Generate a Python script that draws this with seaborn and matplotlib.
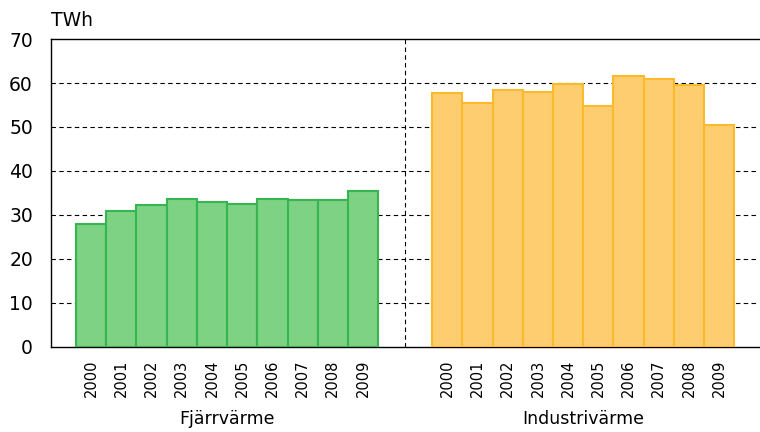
import numpy as np
import pandas as pd
import matplotlib
matplotlib.use('Agg')
import matplotlib.pyplot as plt
import matplotlib.transforms as mtransforms
import seaborn as sns

years = ['2000', '2001', '2002', '2003', '2004', '2005', '2006', '2007', '2008', '2009']
groups = ['Fjärrvärme', 'Industrivärme']
fjarrvarme = [28.0, 30.8, 32.3, 33.7, 33.0, 32.6, 33.7, 33.3, 33.3, 35.5]
industrivarme = [57.7, 55.5, 58.4, 58.0, 59.8, 54.8, 61.7, 60.9, 59.6, 50.4]
y_ticks = [0, 10, 20, 30, 40, 50, 60, 70]
unit = 'TWh'

face = {'Fjärrvärme': '#7dd383', 'Industrivärme': '#fdcd70'}
edge = {'Fjärrvärme': '#36b653', 'Industrivärme': '#fcb92c'}

# second group shifted right, leaving a gap for the divider
offset = len(years) + 1.79
rows = []
for g, vals, off in [(groups[0], fjarrvarme, 0.0), (groups[1], industrivarme, offset)]:
    for i, (yr, v) in enumerate(zip(years, vals)):
        rows.append({'group': g, 'year': yr, 'pos': i + off, 'value': v})
df = pd.DataFrame(rows)

sns.set_style('white')
plt.rcParams['font.family'] = ['DejaVu Sans']
plt.rcParams['text.color'] = 'black'

fig = plt.figure(figsize=(7.6, 4.32), dpi=100)
ax = fig.add_axes([51 / 760, 1 - 347 / 432, 708 / 760, 308 / 432])

sns.barplot(data=df, x='pos', y='value', hue='group', palette=face,
            native_scale=True, width=1.0, dodge=False, legend=False,
            saturation=1, linewidth=1.5, ax=ax, zorder=3)
for patch, g in zip(ax.patches, df['group']):
    patch.set_edgecolor(edge[g])

ax.set_xlim(-1.33, 22.11)
ax.set_ylim(0, 70)
ax.set_yticks(y_ticks)
ax.set_yticklabels([str(t) for t in y_ticks], fontsize=13.5)
ax.set_xticks(df['pos'])
ax.set_xticklabels(df['year'], rotation=90, fontsize=10.5)
ax.tick_params(axis='both', length=0, colors='black')
ax.tick_params(axis='y', pad=13)
ax.tick_params(axis='x', pad=9)
ax.set_xlabel('')
ax.set_ylabel('')

for t in y_ticks[1:-1]:
    ax.axhline(t, color='black', lw=0.8, ls=(0, (4, 3)), zorder=1)
divider = (len(years) - 0.5 + offset - 0.5) / 2
ax.axvline(divider, color='black', lw=0.8, ls=(0, (4, 3)), zorder=1)

for s in ['left', 'bottom', 'top']:
    ax.spines[s].set_color('black')
    ax.spines[s].set_linewidth(1.0)
ax.spines['right'].set_visible(False)

trans = mtransforms.blended_transform_factory(ax.transData, ax.transAxes)
ax.text((len(years) - 1) / 2, -0.235, groups[0], transform=trans,
        ha='center', va='center', fontsize=12.5, color='black')
ax.text(offset + (len(years) - 1) / 2, -0.235, groups[1], transform=trans,
        ha='center', va='center', fontsize=12.5, color='black')
ax.text(0.0, 1.03, unit, transform=ax.transAxes, ha='left', va='bottom',
        fontsize=13.5, color='black')

fig.savefig('out.png', dpi=100)
